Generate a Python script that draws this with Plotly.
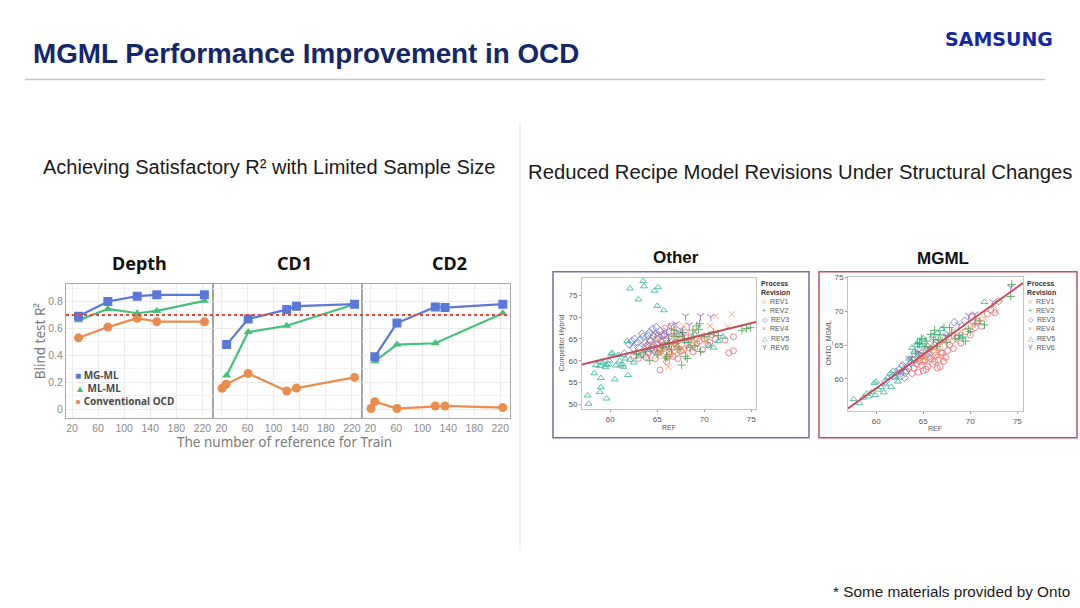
import plotly.graph_objects as go

# ---------------- data: left chart (Blind test R²) ----------------
depth_x = [30, 75, 120, 150, 223]
depth_mgml = [0.69, 0.80, 0.84, 0.85, 0.85]
depth_mlml = [0.66, 0.745, 0.713, 0.73, 0.805]
depth_conv = [0.53, 0.61, 0.676, 0.65, 0.65]

cd1_x_mg = [28, 61, 120, 135, 224]
cd1_mgml = [0.48, 0.67, 0.74, 0.765, 0.78]
cd1_x_ml = [28, 61, 120, 224]
cd1_mlml = [0.25, 0.573, 0.62, 0.78]
cd1_x_conv = [21, 27, 61, 120, 135, 224]
cd1_conv = [0.155, 0.185, 0.266, 0.135, 0.157, 0.236]

cd2_x_mg = [27, 61, 120, 135, 224]
cd2_mgml = [0.39, 0.64, 0.76, 0.755, 0.78]
cd2_x_ml = [27, 61, 120, 224]
cd2_mlml = [0.357, 0.48, 0.49, 0.713]
cd2_x_conv = [21, 27, 61, 120, 135, 224]
cd2_conv = [0.005, 0.056, 0.005, 0.024, 0.024, 0.012]

target_r2 = 0.7
x_ticks_left = [20, 60, 100, 140, 180, 220]
y_ticks_left = [0, 0.2, 0.4, 0.6, 0.8]
y_ticktext_left = ["0", "0.2", "0.4", "0.6", "0.8"]
panel_names = ["Depth", "CD1", "CD2"]
series_names = ["MG-ML", "ML-ML", "Conventional OCD"]

# ---------------- data: "Other" scatter ----------------
other_rev1_x = [62.5, 63.0, 63.5, 64.0, 64.2, 64.5, 64.8, 65.0, 65.2, 65.3, 65.5, 65.6, 65.8, 66.0, 66.0, 66.3, 66.5, 66.7, 66.8, 67.0,
                67.2, 67.4, 67.8, 68.0, 68.2, 68.6, 69.0, 69.5, 69.8, 70.0, 70.4, 70.8, 71.2, 72.2, 72.6, 73.1, 73.1, 65.3, 64.6, 66.2,
                64.3, 65.1, 65.9, 66.4, 66.9, 67.5, 68.4, 69.2, 64.0, 65.4, 66.1, 67.3, 68.8, 70.6, 63.8]
other_rev1_y = [61.2, 60.5, 61.5, 62.0, 64.8, 63.0, 60.5, 64.0, 62.5, 57.9, 66.0, 63.5, 67.5, 64.8, 59.8, 62.0, 68.0, 61.0, 66.5, 63.5,
                60.5, 65.0, 62.5, 66.5, 64.0, 65.5, 63.0, 64.5, 62.5, 65.0, 63.6, 66.0, 65.0, 64.8, 61.8, 65.5, 62.3, 62.8, 65.6, 63.2,
                62.6, 61.8, 63.2, 61.5, 64.2, 62.2, 63.0, 64.0, 63.6, 64.6, 60.8, 66.2, 62.0, 64.2, 60.8]
other_rev2_x = [62.8, 63.5, 64.2, 65.0, 65.6, 66.0, 66.5, 66.8, 67.0, 67.2, 67.3, 67.6, 67.7, 68.0, 68.2, 68.5, 68.6, 68.8, 69.2, 69.4,
                69.5, 69.6, 70.0, 70.5, 71.0, 71.5, 74.0, 74.5, 74.9, 66.2, 65.4, 66.3, 67.4, 68.3, 69.0, 66.8, 67.9, 65.9]
other_rev2_y = [61.4, 61.8, 60.0, 61.5, 63.0, 61.0, 62.5, 67.0, 64.0, 63.2, 65.5, 59.0, 66.5, 61.0, 60.5, 63.0, 65.0, 67.0, 68.0, 67.2,
                68.5, 62.1, 65.5, 66.0, 66.5, 65.8, 67.0, 67.4, 67.6, 64.2, 62.2, 63.8, 62.6, 64.2, 63.4, 65.6, 64.8, 60.6]
other_rev3_x = [61.5, 62.0, 62.3, 62.5, 62.6, 62.9, 63.0, 63.2, 63.4, 63.5, 63.7, 63.8, 64.0, 64.1, 64.2, 64.3, 64.5, 64.6, 64.7, 64.8,
                64.9, 65.0, 65.3, 65.5, 65.8, 66.2]
other_rev3_y = [61.6, 63.8, 64.5, 62.8, 65.0, 64.2, 63.0, 64.8, 66.2, 65.5, 64.0, 63.2, 65.8, 61.8, 66.5, 64.5, 67.3, 63.5, 62.5, 66.0,
                67.7, 65.0, 66.8, 64.2, 66.0, 65.3]
other_rev4_x = [63.7, 64.0, 64.8, 65.0, 65.2, 65.6, 65.8, 66.0, 66.2, 66.4, 66.6, 66.8, 67.1, 67.6, 67.8, 68.1, 68.5, 69.0, 69.2, 69.6,
                70.2, 70.6, 71.2, 72.5, 72.9, 71.2, 64.5, 65.3, 65.9, 66.5, 67.3, 67.9, 68.8, 65.1, 66.9, 67.4]
other_rev4_y = [63.5, 61.0, 62.3, 61.0, 63.1, 61.8, 64.5, 62.6, 58.6, 63.8, 66.0, 64.4, 62.0, 63.0, 68.0, 65.0, 63.5, 66.8, 64.2, 65.8,
                64.6, 68.0, 66.5, 67.8, 70.7, 70.3, 63.8, 62.0, 63.5, 61.2, 64.6, 62.2, 64.8, 64.8, 63.1, 61.4]
other_rev5_x = [63.5, 63.6, 62.1, 64.7, 65.1, 63.0, 65.0, 65.7, 57.6, 57.7, 58.3, 59.0, 59.0, 58.9, 59.6, 60.5, 61.9, 58.5, 58.9, 59.2,
                59.6, 59.9, 60.1, 60.2, 59.5, 59.0, 61.0, 61.3, 61.6, 61.4, 62.1, 62.5, 61.8, 62.8, 63.2, 64.0, 59.8, 60.6, 61.1, 60.9,
                66.0, 68.0, 70.5, 71.0, 71.5, 72.0, 67.0, 69.0]
other_rev5_y = [78.3, 77.1, 76.6, 76.1, 76.9, 74.1, 72.6, 71.6, 52.0, 50.1, 57.1, 56.0, 53.9, 52.8, 51.3, 55.7, 56.7, 59.0, 58.8, 59.5,
                59.0, 60.0, 61.5, 61.8, 58.5, 59.8, 60.0, 59.2, 60.5, 58.6, 60.2, 59.6, 64.5, 62.0, 61.0, 62.5, 59.2, 58.9, 58.9, 61.3,
                63.5, 64.5, 63.5, 63.0, 64.5, 65.5, 66.5, 66.0]
other_rev6_x = [68.0, 69.6, 70.7, 66.5, 67.0, 67.5, 66.0, 68.4, 65.4, 66.2, 67.8, 64.8]
other_rev6_y = [70.3, 70.3, 70.1, 68.0, 68.5, 67.2, 67.0, 68.2, 66.0, 65.8, 66.0, 66.2]
other_fit_x = [57.0, 75.5]
other_fit_y = [59.1, 68.9]

# ---------------- data: "MGML" scatter ----------------
mgml_rev1_x = [63.2, 63.8, 64.0, 64.5, 64.6, 64.8, 65.0, 65.2, 65.5, 65.8, 66.0, 66.3, 66.6, 66.8, 67.0, 67.4, 67.8, 68.2, 68.6, 69.0,
               69.5, 70.0, 70.2, 70.5, 70.8, 71.2, 71.8, 72.2, 72.6, 73.0, 64.3, 65.0, 65.6, 66.2, 66.9, 67.2, 65.3, 66.5, 64.9, 67.6]
mgml_rev1_y = [61.2, 60.8, 61.6, 61.0, 62.6, 62.0, 61.2, 62.8, 61.8, 63.0, 62.2, 63.5, 62.8, 61.8, 63.8, 63.2, 65.0, 64.5, 66.2, 65.3,
               67.0, 66.5, 69.2, 67.6, 68.5, 67.8, 69.6, 70.2, 69.8, 71.5, 62.2, 62.6, 63.2, 62.6, 64.0, 62.6, 61.4, 61.6, 63.4, 64.2]
mgml_rev2_x = [63.8, 64.2, 64.6, 65.0, 65.3, 65.7, 65.8, 66.1, 66.4, 66.8, 67.0, 67.2, 67.5, 68.0, 68.4, 68.8, 69.2, 69.5, 69.8, 70.0,
               70.5, 71.0, 71.5, 74.4, 74.3, 64.4, 65.2, 65.9, 66.6, 67.8, 64.8, 66.2]
mgml_rev2_y = [63.2, 64.0, 65.2, 63.8, 65.6, 64.6, 66.6, 65.8, 64.8, 66.5, 65.6, 67.6, 65.4, 66.8, 66.0, 66.4, 66.2, 65.6, 67.4, 67.0,
               68.2, 68.6, 68.0, 74.0, 72.2, 65.2, 64.8, 64.4, 65.8, 67.6, 66.0, 67.2]
mgml_rev3_x = [61.0, 61.8, 62.2, 62.5, 62.6, 62.8, 63.0, 63.1, 63.4, 63.7, 64.0, 64.5, 65.5, 66.3, 68.3, 69.4]
mgml_rev3_y = [59.6, 60.4, 60.6, 61.4, 60.4, 62.0, 60.2, 60.9, 61.6, 62.4, 62.8, 63.6, 63.8, 65.4, 68.4, 68.6]
mgml_rev4_x = [64.4, 64.8, 65.2, 65.5, 65.6, 65.8, 66.0, 66.2, 66.5, 66.8, 67.0, 67.2, 67.6, 68.0, 68.2, 68.5, 69.0, 69.6, 70.2, 70.8,
               71.5, 72.5, 72.8, 73.2, 64.6, 65.4, 66.0, 66.6, 67.4, 65.1, 66.3, 67.8]
mgml_rev4_y = [62.6, 63.2, 63.6, 62.8, 64.6, 64.0, 63.2, 64.6, 63.8, 65.0, 63.0, 65.4, 64.8, 66.0, 67.2, 65.6, 67.0, 67.6, 68.0, 68.6,
               69.0, 70.8, 70.0, 71.8, 64.0, 64.0, 65.2, 64.4, 66.2, 63.0, 63.4, 65.6]
mgml_rev5_x = [57.6, 58.2, 58.6, 59.0, 59.2, 59.5, 59.8, 59.9, 60.2, 60.5, 60.8, 61.0, 61.2, 61.5, 61.6, 61.8, 62.0, 62.3, 62.6, 63.0,
               63.5, 63.8, 64.0, 64.3, 64.5, 64.6, 64.8, 65.0, 65.2, 66.0, 66.5, 67.0, 67.5, 69.0, 71.5, 60.0]
mgml_rev5_y = [57.0, 56.4, 57.2, 57.8, 57.4, 58.0, 59.4, 57.6, 58.4, 58.8, 58.0, 59.2, 60.2, 60.8, 58.8, 61.2, 60.2, 59.6, 61.0, 61.6,
               63.0, 64.6, 64.0, 65.0, 65.6, 63.6, 64.8, 66.0, 65.4, 66.4, 66.8, 67.4, 66.6, 66.2, 71.4, 59.6]
mgml_rev6_x = [62.4, 63.0, 63.5, 64.5, 65.5, 66.5, 67.4, 68.8, 69.8, 70.5, 72.4, 74.3]
mgml_rev6_y = [61.2, 62.0, 63.0, 64.0, 64.6, 65.2, 66.4, 68.0, 69.4, 69.6, 71.4, 73.6]
mgml_fit_x = [57.0, 75.6]
mgml_fit_y = [55.6, 74.2]

rev_names = ["REV1", "REV2", "REV3", "REV4", "REV5", "REV6"]
sc_x_ticks = [60, 65, 70, 75]
other_y_ticks = [50, 55, 60, 65, 70, 75]
mgml_y_ticks = [60, 65, 70, 75]

# ---------------- styling ----------------
W, H = 1080, 608
def X(p):
    return p / W
def Y(p):
    return 1 - p / H

C_MG = "#5a78d8"
C_ML = "#45c07c"
C_CONV = "#eb8b4c"
REV_COLORS = ["#e0606c", "#3f9a44", "#4f6fd0", "#f0925c", "#22b08e", "#8c50c2"]
REV_SYMBOLS = ["circle-open", "cross-thin-open", "diamond-open", "x-thin-open", "triangle-up-open", "y-down-open"]
REV_GLYPHS = ["○", "+", "◇", "×", "△", "Y"]
FONT = "Liberation Sans, Arial, sans-serif"

fig = go.Figure()

left_sets = [
    ("x", "y", depth_x, depth_mgml, depth_x, depth_mlml, depth_x, depth_conv),
    ("x2", "y2", cd1_x_mg, cd1_mgml, cd1_x_ml, cd1_mlml, cd1_x_conv, cd1_conv),
    ("x3", "y3", cd2_x_mg, cd2_mgml, cd2_x_ml, cd2_mlml, cd2_x_conv, cd2_conv),
]
for xa, ya, xm, ym, xl, yl, xc, yc in left_sets:
    fig.add_trace(go.Scatter(x=xc, y=yc, xaxis=xa, yaxis=ya, mode="lines+markers", name=series_names[2],
                             line=dict(color=C_CONV, width=2.2),
                             marker=dict(symbol="circle", size=9, color=C_CONV), showlegend=False))
    fig.add_trace(go.Scatter(x=xl, y=yl, xaxis=xa, yaxis=ya, mode="lines+markers", name=series_names[1],
                             line=dict(color=C_ML, width=2.2),
                             marker=dict(symbol="triangle-up", size=8, color=C_ML), showlegend=False))
    fig.add_trace(go.Scatter(x=xm, y=ym, xaxis=xa, yaxis=ya, mode="lines+markers", name=series_names[0],
                             line=dict(color=C_MG, width=2.2),
                             marker=dict(symbol="square", size=9, color=C_MG), showlegend=False))

other_sets = [(other_rev1_x, other_rev1_y), (other_rev2_x, other_rev2_y), (other_rev3_x, other_rev3_y),
              (other_rev4_x, other_rev4_y), (other_rev5_x, other_rev5_y), (other_rev6_x, other_rev6_y)]
mgml_sets = [(mgml_rev1_x, mgml_rev1_y), (mgml_rev2_x, mgml_rev2_y), (mgml_rev3_x, mgml_rev3_y),
             (mgml_rev4_x, mgml_rev4_y), (mgml_rev5_x, mgml_rev5_y), (mgml_rev6_x, mgml_rev6_y)]

for xa, ya, sets in (("x4", "y4", other_sets), ("x5", "y5", mgml_sets)):
    for i, (sx, sy) in enumerate(sets):
        fig.add_trace(go.Scatter(x=sx, y=sy, xaxis=xa, yaxis=ya, mode="markers", name=rev_names[i],
                                 marker=dict(symbol=REV_SYMBOLS[i], size=6, color=REV_COLORS[i],
                                             line=dict(color=REV_COLORS[i], width=0.9)),
                                 opacity=0.85, showlegend=False))

fig.add_trace(go.Scatter(x=other_fit_x, y=other_fit_y, xaxis="x4", yaxis="y4", mode="lines",
                         line=dict(color="#c94a5c", width=2), showlegend=False))
fig.add_trace(go.Scatter(x=mgml_fit_x, y=mgml_fit_y, xaxis="x5", yaxis="y5", mode="lines",
                         line=dict(color="#c94a5c", width=2), showlegend=False))

# ---------------- axes ----------------
left_axis_common = dict(showline=True, mirror=True, linecolor="#a6a6a6", linewidth=1.2,
                        zeroline=False, gridcolor="#ebebeb", gridwidth=1)
x_ranges = [[10.8, 236.2], [7.1, 235.4], [7.2, 235.0]]
x_domains = [[66, 213], [213, 362], [362, 510]]
for i in range(3):
    sfx = "" if i == 0 else str(i + 1)
    fig.layout["xaxis" + sfx] = dict(domain=[X(x_domains[i][0]), X(x_domains[i][1])], range=x_ranges[i],
                                     anchor="y" + sfx, tickvals=x_ticks_left, showgrid=True,
                                     tickfont=dict(family=FONT, size=10.5, color="#8a8a8a"),
                                     ticks="", **left_axis_common)
    fig.layout["yaxis" + sfx] = dict(domain=[Y(417), Y(282)], range=[-0.065, 0.933], anchor="x" + sfx,
                                     tickvals=y_ticks_left, ticktext=y_ticktext_left, showgrid=True,
                                     showticklabels=(i == 0), ticks="",
                                     tickfont=dict(family=FONT, size=10.5, color="#8a8a8a"),
                                     minor=dict(dtick=0.1, showgrid=True, gridcolor="#f3f3f3"),
                                     **left_axis_common)

sc_common = dict(showline=True, mirror=True, linecolor="#c4c4c4", linewidth=1, zeroline=False, showgrid=False,
                 ticks="outside", ticklen=2, tickcolor="#999999", tickwidth=1,
                 tickfont=dict(family=FONT, size=8, color="#555555"))
fig.layout.xaxis4 = dict(domain=[X(582), X(756)], range=[57.0, 75.5], anchor="y4", tickvals=sc_x_ticks, **sc_common)
fig.layout.yaxis4 = dict(domain=[Y(408), Y(276)], range=[48.9, 79.1], anchor="x4", tickvals=other_y_ticks, **sc_common)
fig.layout.xaxis5 = dict(domain=[X(848), X(1023)], range=[57.0, 75.6], anchor="y5", tickvals=sc_x_ticks, **sc_common)
fig.layout.yaxis5 = dict(domain=[Y(410), Y(275)], range=[55.24, 75.15], anchor="x5", tickvals=mgml_y_ticks, **sc_common)

# ---------------- shapes ----------------
shapes = [
    dict(type="line", xref="paper", yref="paper", x0=X(25), x1=X(1045), y0=Y(77), y1=Y(77),
         line=dict(color="#c6c6c6", width=1.5)),
    dict(type="line", xref="paper", yref="paper", x0=X(520), x1=X(520), y0=Y(120), y1=Y(550),
         line=dict(color="#e8e8e8", width=1.2)),
    dict(type="line", xref="paper", yref="y", x0=X(66), x1=X(510), y0=target_r2, y1=target_r2,
         line=dict(color="#e2463c", width=2, dash="dot")),
    dict(type="rect", xref="paper", yref="paper", x0=X(553), x1=X(809), y0=Y(437), y1=Y(270),
         line=dict(color="#7d6c9c", width=1.5)),
    dict(type="rect", xref="paper", yref="paper", x0=X(819), x1=X(1077), y0=Y(437), y1=Y(270),
         line=dict(color="#c24f5c", width=1.5)),
]
fig.update_layout(shapes=shapes)

# ---------------- annotations ----------------
ann = []
def add_text(text, px, py, size, color="#222222", bold=False, xanchor="center", yanchor="middle",
             family=FONT, angle=0, pad=1):
    t = "<b>%s</b>" % text if bold else text
    ann.append(dict(text=t, x=X(px), y=Y(py), xref="paper", yref="paper", showarrow=False,
                    xanchor=xanchor, yanchor=yanchor, textangle=angle, borderpad=pad,
                    font=dict(family=family, size=size, color=color)))

add_text("MGML Performance Improvement in OCD", 31, 51, 27.8, color="#13276a", bold=True, xanchor="left")
add_text("SAMSUNG", 999, 36, 19, color="#1428a0", bold=True, family="DejaVu Sans, Liberation Sans")
add_text("Achieving Satisfactory R² with Limited Sample Size", 269, 165, 20, color="#1a1a1a")
add_text("Reduced Recipe Model Revisions Under Structural Changes", 800, 170, 20.3, color="#1a1a1a")
add_text("* Some materials provided by Onto", 1072, 591, 15.3, color="#1a1a1a", xanchor="right")

panel_cx = [139, 294, 449]
for name, cx in zip(panel_names, panel_cx):
    add_text(name, cx, 261, 18, color="#111111", bold=True, family="Noto Sans, Liberation Sans")
add_text("Blind test R²", 40, 340, 13.5, color="#7a7a7a", angle=-90, family="Noto Sans, Liberation Sans")
add_text("The number of reference for Train", 284, 441, 13.5, color="#7a7a7a", family="Noto Sans, Liberation Sans")

leg_colors = [C_MG, C_ML, C_CONV]
leg_glyphs = ["■", "▲", "●"]
for j, (nm, col, gl) in enumerate(zip(series_names, leg_colors, leg_glyphs)):
    add_text("<span style='color:%s'>%s</span> %s" % (col, gl, nm), 74, 374 + j * 13, 10,
             color="#4a4a4a", bold=True, xanchor="left", family="Noto Sans, Liberation Sans", pad=0)

# scatter panel titles
add_text("Other", 676, 256, 17, color="#111111", bold=True)
add_text("MGML", 943, 257, 17, color="#111111", bold=True)
# scatter axis titles
add_text("REF", 669, 426.5, 7, color="#555555")
add_text("REF", 935, 428, 7, color="#555555")
add_text("Competitor Hybrid", 562, 342, 7, color="#555555", angle=-90)
add_text("ONTO_MGML", 829, 342, 7, color="#555555", angle=-90)
# scatter legends
for lx in (759, 1025):
    add_text("Process", lx, 282, 7, color="#333333", bold=True, xanchor="left")
    add_text("Revision", lx, 290.5, 7, color="#333333", bold=True, xanchor="left")
    for k in range(6):
        add_text("<span style='color:%s'>%s</span>  %s" % (REV_COLORS[k], REV_GLYPHS[k], rev_names[k]),
                 lx + 1, 299.5 + k * 9.3, 7, color="#555555", xanchor="left")

fig.update_layout(annotations=ann, width=W, height=H, margin=dict(l=0, r=0, t=0, b=0),
                  paper_bgcolor="white", plot_bgcolor="white", showlegend=False)

fig.write_html("out.html", config={"displayModeBar": False},
               post_script="document.body.style.margin='0';document.body.style.overflow='hidden';")
